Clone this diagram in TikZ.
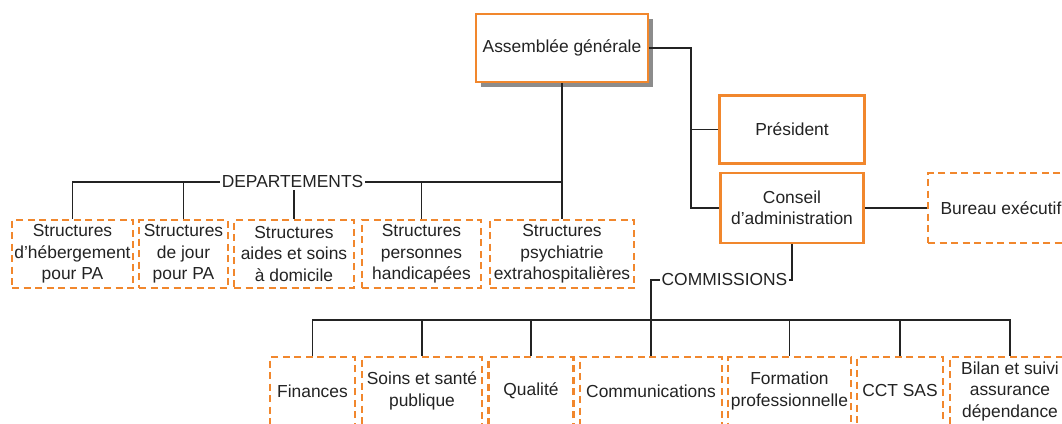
\documentclass[tikz,border=0pt]{standalone}
\usepackage{fontspec}
\setmainfont{Liberation Sans}
\usetikzlibrary{shadows}
\definecolor{orgorange}{RGB}{241,135,45}
\definecolor{linegrey}{RGB}{35,35,35}

\begin{document}
\begin{tikzpicture}[x=1pt, y=-1pt,
	font=\fontsize{17.4}{21.5}\selectfont, text=linegrey,
	box/.style = {draw=orgorange, line width=2.7pt, fill=white,
		align=center, inner sep=2pt, minimum height=68pt},
	dashbox/.style = {box, dash pattern=on 7pt off 4.5pt},
	link/.style = {draw=linegrey, line width=1.1pt},
	tag/.style = {fill=white, inner sep=1.5pt}]
	\clip (0,0) rectangle (1062,423);

	% top of the organisation
	\node[box, minimum width=172pt, drop shadow={shadow xshift=5pt,
		shadow yshift=-5pt, fill=black!45, opacity=1}] (ag) at (562,48) {Assemblée générale};
	\node[box, minimum width=145pt] (pres) at (792,129.5) {Président};
	\node[box, minimum width=143pt, minimum height=70pt] (ca) at (792,208) {Conseil\\d’administration};
	\node[dashbox, minimum width=146pt, minimum height=70pt] (be) at (1001,208) {Bureau exécutif};

	% departements
	\node[dashbox, minimum width=121pt] (d1) at (72.5,254) {Structures\\d’hébergement\\pour PA};
	\node[dashbox, minimum width=89pt] (d2) at (183.5,254) {Structures\\de jour\\pour PA};
	\node[dashbox, minimum width=120pt] (d3) at (294,254) {Structures\\aides et soins\\à domicile};
	\node[dashbox, minimum width=119pt] (d4) at (421.5,254) {Structures\\personnes\\handicapées};
	\node[dashbox, minimum width=144pt] (d5) at (562,254) {Structures\\psychiatrie\\extrahospitalières};

	% commissions
	\node[dashbox, minimum width=85pt] (c1) at (312.5,391) {Finances};
	\node[dashbox, minimum width=120pt] (c2) at (422,391) {Soins et santé\\publique};
	\node[dashbox, minimum width=85pt] (c3) at (531,391) {Qualité};
	\node[dashbox, minimum width=142pt] (c4) at (651,391) {Communications};
	\node[dashbox, minimum width=123pt] (c5) at (789.5,391) {Formation\\professionnelle};
	\node[dashbox, minimum width=86pt] (c6) at (900,391) {CCT SAS};
	\node[dashbox, minimum width=120pt] (c7) at (1010,391) {Bilan et suivi\\assurance\\dépendance};

	% connectors
	\coordinate (trunk) at (691,0);
	\coordinate (dbus) at (0,182);
	\coordinate (cbus) at (0,320);
	\coordinate (ctag) at (724.5,280);
	\draw[link] (ag.east) -| (trunk |- ca.west) -- (ca.west);
	\draw[link] (pres.west) -- (trunk |- pres.west);
	\draw[link] (ca.east) -- (be.west);
	\draw[link] (ag.south) -- (d5.north);
	\draw[link] (d1.north) |- (d5.north |- dbus);
	\foreach \d in {d2,d3,d4}
		\draw[link] (\d.north) -- (\d.north |- dbus);
	\draw[link] (ca.south) |- (ctag) -| (c4.north);
	\draw[link] (c1.north) |- (c7.north |- cbus) -- (c7.north);
	\foreach \c in {c2,c3,c5,c6}
		\draw[link] (\c.north) -- (\c.north |- cbus);

	% group labels on the lines
	\node[tag] (dept) at (292.5,182) {DEPARTEMENTS};
	\node[tag] (comm) at (ctag) {COMMISSIONS};
\end{tikzpicture}
\end{document}
